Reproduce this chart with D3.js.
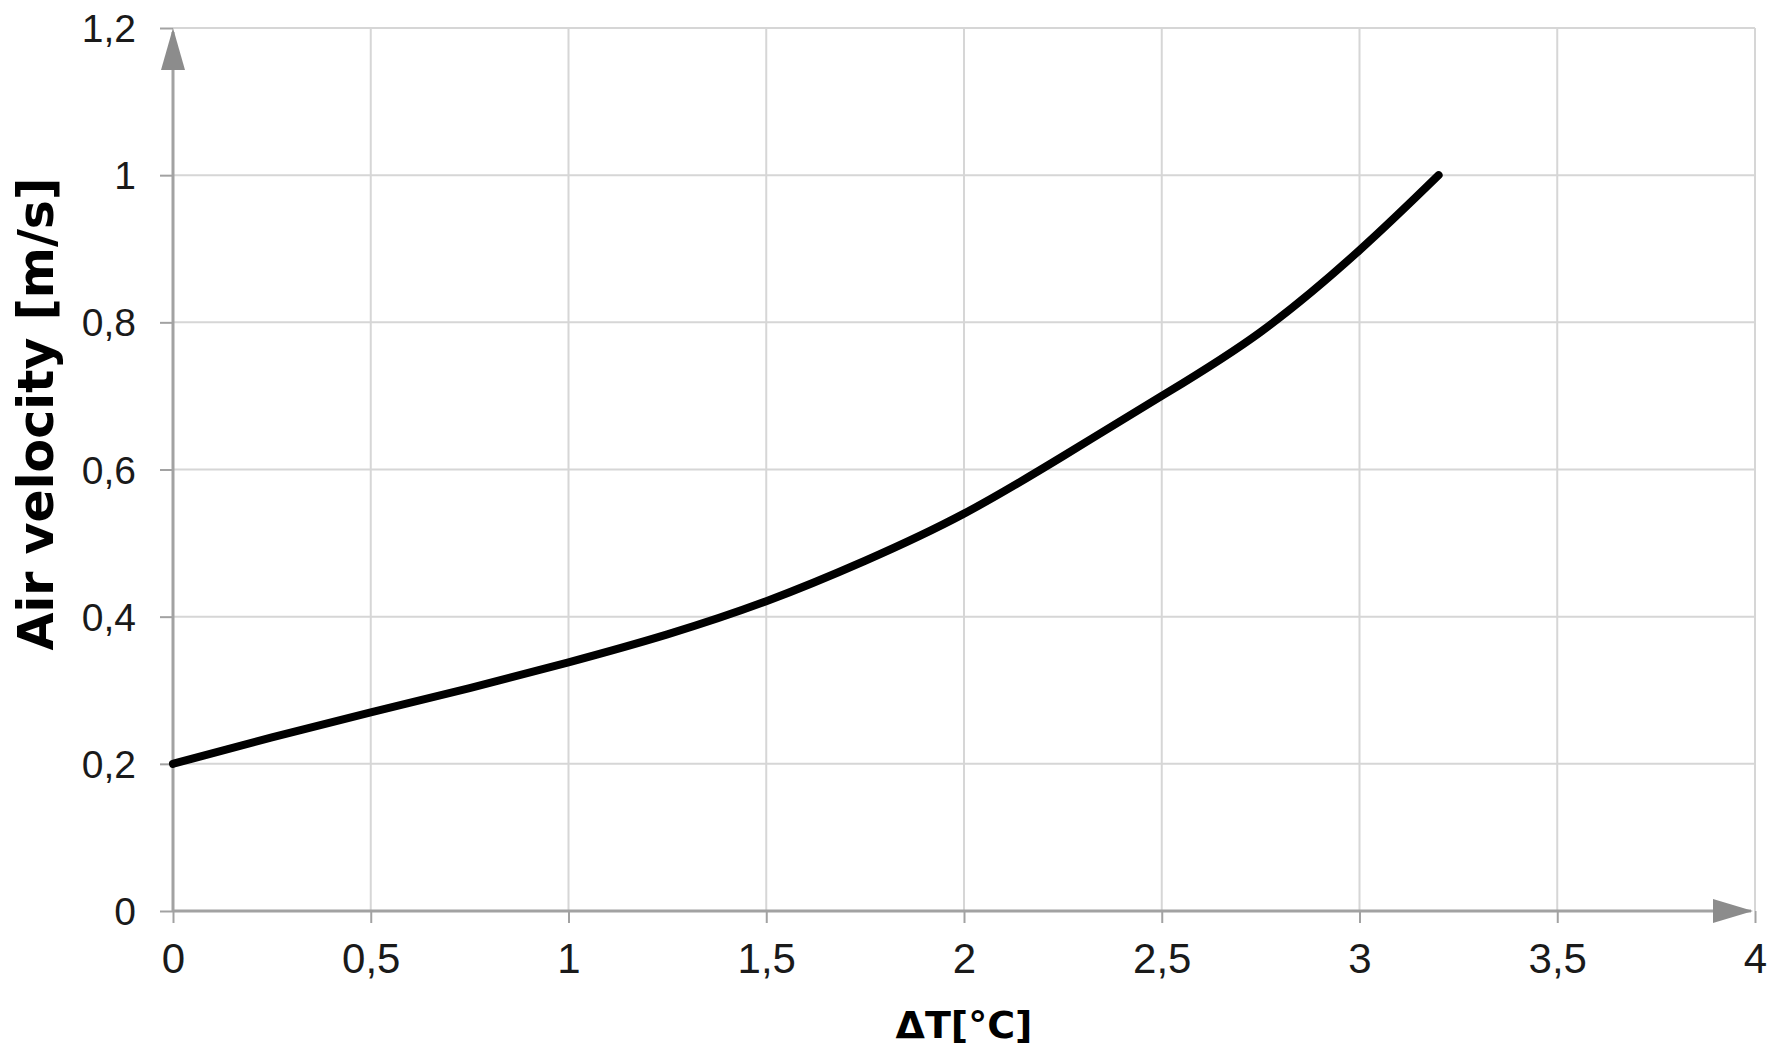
<!doctype html>
<html>
<head>
<meta charset="utf-8">
<title>Air velocity vs ΔT</title>
<script src="https://cdn.jsdelivr.net/npm/d3@7"></script>
<style>
  body { margin: 0; background: #fff; }
</style>
</head>
<body>
<script>
// curve
var deltaT   = [0, 0.25, 0.5, 0.75, 1, 1.25, 1.5, 1.75, 2, 2.25, 2.5, 2.75, 3, 3.2];
var velocity = [0.2, 0.236, 0.270, 0.303, 0.338, 0.376, 0.421, 0.476, 0.540, 0.618, 0.700, 0.787, 0.898, 1.0];

var xTicks = [0, 0.5, 1, 1.5, 2, 2.5, 3, 3.5, 4];
var yTicks = [0, 0.2, 0.4, 0.6, 0.8, 1, 1.2];

var xTitle = "ΔT[°C]";
var yTitle = "Air velocity [m/s]";

var width = 1779, height = 1048;
var gridColor = "#d6d6d6", axisColor = "#a2a2a2", arrowColor = "#8c8c8c";
var labelFont = "'Liberation Sans', Arial, sans-serif";
var titleFont = "'DejaVu Sans', Verdana, sans-serif";

var locale = d3.formatLocale({ decimal: ",", thousands: ".", grouping: [3], currency: ["", ""] });
var fmt = function(d) { return locale.format("~g")(d); };

var x = d3.scaleLinear().domain([0, 4]).range([173, 1755]);
var y = d3.scaleLinear().domain([0, 1.2]).range([911, 28]);

var svg = d3.select("body").append("svg")
    .attr("width", width)
    .attr("height", height);

// grid
svg.append("g").selectAll("line")
  .data(xTicks.slice(1))
  .enter().append("line")
    .attr("x1", function(d) { return x(d); })
    .attr("x2", function(d) { return x(d); })
    .attr("y1", y(1.2))
    .attr("y2", y(0))
    .attr("stroke", gridColor)
    .attr("stroke-width", 2);

svg.append("g").selectAll("line")
  .data(yTicks.slice(1))
  .enter().append("line")
    .attr("x1", x(0))
    .attr("x2", x(4))
    .attr("y1", function(d) { return y(d); })
    .attr("y2", function(d) { return y(d); })
    .attr("stroke", gridColor)
    .attr("stroke-width", 2);

// axes
var xAxis = d3.axisBottom(x).tickValues(xTicks).tickSize(12).tickPadding(20).tickFormat(fmt);
var yAxis = d3.axisLeft(y).tickValues(yTicks).tickSize(13).tickPadding(24).tickFormat(fmt);

var gx = svg.append("g")
    .attr("transform", "translate(0," + y(0) + ")")
    .call(xAxis);
var gy = svg.append("g")
    .attr("transform", "translate(" + x(0) + ",0)")
    .call(yAxis);

[gx, gy].forEach(function(g) {
  g.select(".domain").remove();
  g.selectAll(".tick line").attr("stroke", axisColor).attr("stroke-width", 2);
  g.selectAll(".tick text").attr("fill", "#1a1a1a").style("font-family", labelFont);
});
gx.selectAll(".tick text").style("font-size", "42px").attr("dy", "0.71em");
gy.selectAll(".tick text").style("font-size", "39px").attr("dy", "0.35em");

// axis lines with arrows
svg.append("line")
    .attr("x1", x(0)).attr("x2", x(4) - 4)
    .attr("y1", y(0)).attr("y2", y(0))
    .attr("stroke", axisColor).attr("stroke-width", 3);
svg.append("line")
    .attr("x1", x(0)).attr("x2", x(0))
    .attr("y1", y(0)).attr("y2", y(1.2) + 4)
    .attr("stroke", axisColor).attr("stroke-width", 3);

svg.append("path")
    .attr("d", "M" + (x(4) - 2) + "," + y(0) + "L" + (x(4) - 42) + "," + (y(0) - 12) + "L" + (x(4) - 42) + "," + (y(0) + 12) + "Z")
    .attr("fill", arrowColor);
svg.append("path")
    .attr("d", "M" + x(0) + "," + y(1.2) + "L" + (x(0) - 12) + "," + (y(1.2) + 42) + "L" + (x(0) + 12) + "," + (y(1.2) + 42) + "Z")
    .attr("fill", arrowColor);

// curve
var line = d3.line()
    .x(function(d) { return x(d[0]); })
    .y(function(d) { return y(d[1]); })
    .curve(d3.curveNatural);

svg.append("path")
    .datum(d3.zip(deltaT, velocity))
    .attr("d", line)
    .attr("fill", "none")
    .attr("stroke", "#000")
    .attr("stroke-width", 8)
    .attr("stroke-linecap", "round")
    .attr("stroke-linejoin", "round");

// titles
svg.append("text")
    .attr("x", (x(0) + x(4)) / 2)
    .attr("y", 1038)
    .attr("text-anchor", "middle")
    .style("font-family", titleFont)
    .style("font-weight", "bold")
    .style("font-size", "38px")
    .attr("fill", "#000")
    .text(xTitle);

svg.append("text")
    .attr("transform", "translate(53,414) rotate(-90)")
    .attr("text-anchor", "middle")
    .style("font-family", titleFont)
    .style("font-weight", "bold")
    .style("font-size", "49px")
    .attr("fill", "#000")
    .text(yTitle);
</script>
</body>
</html>
